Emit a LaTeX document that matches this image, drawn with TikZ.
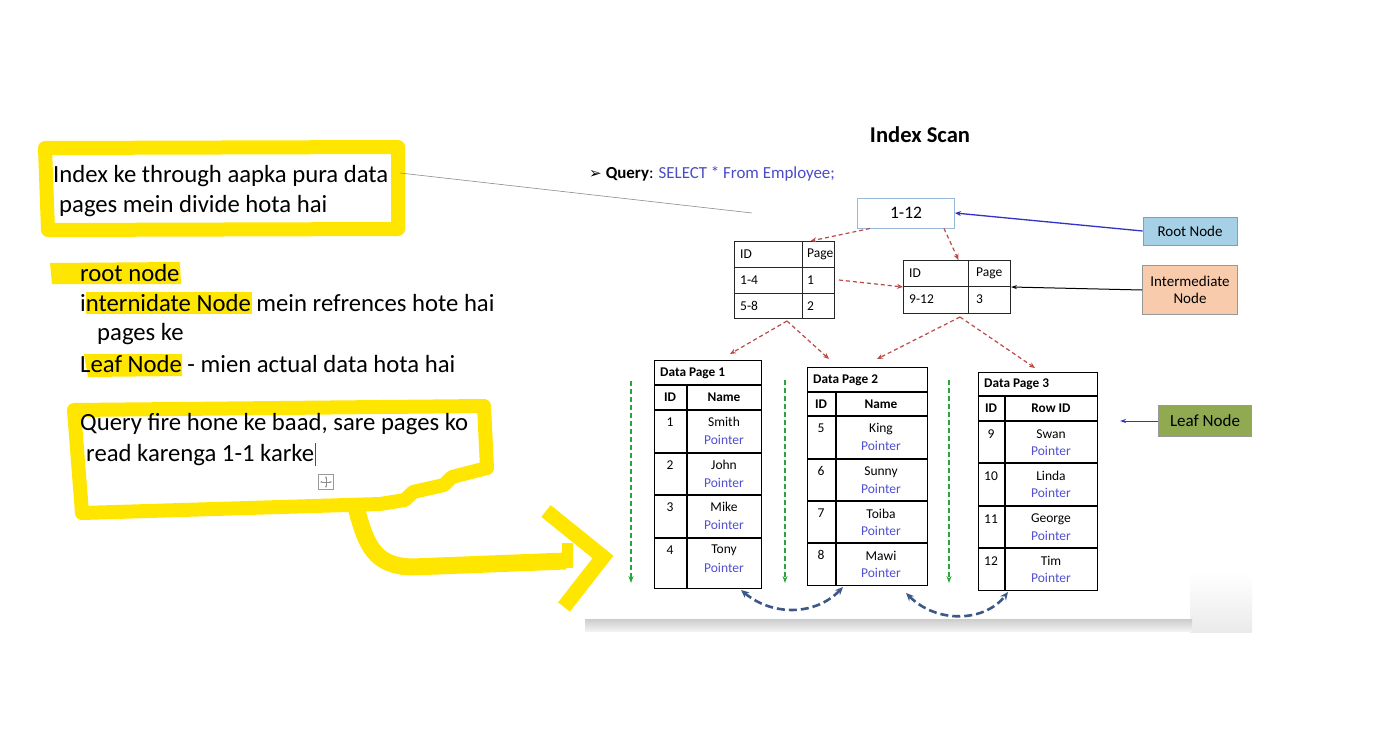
\documentclass[tikz,border=0pt]{standalone}
\usepackage{fontspec}
\setmainfont{Carlito}
\newfontfamily\symfont{DejaVu Sans}
\usetikzlibrary{arrows.meta}
\definecolor{hl}{RGB}{255,230,0}
\definecolor{redd}{RGB}{185,75,70}
\definecolor{grn}{RGB}{40,165,60}
\definecolor{bgrey}{RGB}{60,88,135}
\definecolor{ptrc}{RGB}{80,80,210}
\definecolor{qblue}{RGB}{75,75,200}
\definecolor{rootfill}{RGB}{166,208,230}
\definecolor{rootbd}{RGB}{150,185,220}
\definecolor{interfill}{RGB}{248,203,173}
\definecolor{leaffill}{RGB}{143,170,80}
\definecolor{lblue}{RGB}{50,50,200}
\tikzset{
  lefttxt/.style={font=\fontsize{24.7}{29}\selectfont, anchor=west, inner sep=0pt},
  tbl/.style={draw=black, line width=1.2pt, anchor=north west, inner sep=0pt},
  itbl/.style={draw=black!85, line width=1pt, anchor=north west, inner sep=0pt},
  cell/.style={font=\fontsize{13.5}{16}\selectfont, inner sep=0pt},
  bcell/.style={font=\bfseries\fontsize{13.3}{16}\selectfont, inner sep=0pt},
  ptr/.style={font=\fontsize{13.5}{16}\selectfont, text=ptrc, inner sep=0pt},
  redarr/.style={draw=redd, line width=1.2pt, dash pattern=on 4pt off 3pt, -{Stealth[length=6pt,width=5pt]}},
  grnarr/.style={draw=grn, line width=1.5pt, dash pattern=on 5pt off 3pt, -{Stealth[length=7pt,width=5pt]}},
  blucurve/.style={draw=bgrey, line width=2.6pt, dash pattern=on 8pt off 4pt, {Stealth[length=8pt,width=7pt]}-{Stealth[length=8pt,width=7pt]}},
  hlstroke/.style={draw=hl, line width=14pt, line join=round, line cap=round},
  label/.style={draw=black!40, line width=0.8pt, inner sep=0pt, font=\fontsize{15}{17.5}\selectfont, align=center},
}
\begin{document}
\begin{tikzpicture}[x=1pt,y=-1pt]
\useasboundingbox (0,0) rectangle (1380,741);
\fill[white] (0,0) rectangle (1380,741);

% ---------------- slide background bits ----------------
\shade[top color=white, bottom color=black!8] (1190,572) rectangle (1252,632);
\shade[top color=black!20, bottom color=black!5] (585,619) rectangle (1192,631);

% ---------------- yellow highlighter ----------------
\fill[hl] (50,263) -- (180,262) -- (181,284) -- (52,284) -- cycle;
\fill[hl] (86,292) -- (252,292) -- (252,314) -- (86,314) -- cycle;
\fill[hl] (84,354) -- (182,354) -- (182,376) -- (88,377) -- cycle;
\draw[hlstroke] (45,148) -- (398,147) -- (398,229) -- (48,230) -- cycle;
\draw[hlstroke] (74,410) -- (484,406) -- (487,468) -- (452,477) -- (444,485) -- (413,492) -- (405,500) -- (380,504) -- (82,513) -- cycle;
\draw[hl, line width=17pt, line cap=butt] (356,507) .. controls (366,545) and (374,566) .. (412,567) -- (566,561);
\fill[hl] (562,543) rectangle (573,568);
\draw[hl, line width=15pt, line join=miter, line cap=butt] (546,511) -- (603,557) -- (564,607);

% ---------------- left texts ----------------
\node[lefttxt] (t1) at (53,176) {Index ke through aapka pura data};
\node[lefttxt] (t2) at (59,206) {pages mein divide hota hai};
\node[lefttxt] (t3) at (80,273) {root node};
\node[lefttxt] (t4) at (80,303) {internidate Node mein refrences hote hai};
\node[lefttxt] (t5) at (97,334) {pages ke};
\node[lefttxt] (t6) at (80,364) {Leaf Node - mien actual data hota hai};
\node[lefttxt] (t7) at (80,424) {Query fire hone ke baad, sare pages ko};
\node[lefttxt] (t8) at (86,455) {read karenga 1-1 karke};
\coordinate (cur) at ([xshift=1.5pt]t8.east);
\draw[black!70, line width=0.7pt] ([yshift=12pt]cur) -- ([yshift=-11pt]cur);
% move icon
\node[draw=black!40, fill=white, minimum size=15pt, inner sep=0pt] (mv) at (326,482) {};
\draw[black!45, line width=0.6pt, {Stealth[length=2.5pt]}-{Stealth[length=2.5pt]}] ([xshift=-6pt]mv.center) -- ([xshift=6pt]mv.center);
\draw[black!45, line width=0.6pt, {Stealth[length=2.5pt]}-{Stealth[length=2.5pt]}] ([yshift=-6pt]mv.center) -- ([yshift=6pt]mv.center);

% connector line to diagram
\coordinate (lineend) at (752,213);
\draw[black!45, line width=0.6pt] (400,173) -- (lineend);

% ---------------- title and query ----------------
\node[font=\bfseries\fontsize{22.6}{27}\selectfont, inner sep=0pt] (title) at (920,135) {Index Scan};
\node[anchor=west, inner sep=0pt, font=\fontsize{16.9}{20}\selectfont] (query) at (589,174)
  {{\symfont\fontsize{15}{17}\selectfont ➢}\hspace{4pt}\textbf{Query}: \textcolor{qblue}{SELECT * From Employee;}};

% ---------------- root ----------------
\node[draw=rootbd, line width=1pt, minimum width=97pt, minimum height=30pt, inner sep=0pt,
      font=\fontsize{17.5}{20}\selectfont] (root) at (906,213) {1-12};

% ---------------- intermediate tables ----------------
\node[itbl, minimum width=100pt, minimum height=77pt] (it1) at (734,241) {};
\draw[black!85, line width=1pt] (734,267) -- (834,267) (734,293) -- (834,293) (802,241) -- (802,318);
\node[cell, anchor=west] (it1a) at (740,254) {ID};
\node[cell, anchor=west] (it1b) at (807,254) {Page};
\node[cell, anchor=west] (it1c) at (740,280) {1-4};
\node[cell, anchor=west] (it1d) at (807,280) {1};
\node[cell, anchor=west] (it1e) at (740,306) {5-8};
\node[cell, anchor=west] (it1f) at (807,306) {2};

\node[itbl, minimum width=107pt, minimum height=53pt] (it2) at (903,260) {};
\draw[black!85, line width=1pt] (903,286) -- (1010,286) (968,260) -- (968,313);
\node[cell, anchor=west] (it2a) at (909,273) {ID};
\node[cell, anchor=west] (it2b) at (976,273) {Page};
\node[cell, anchor=west] (it2c) at (909,299) {9-12};
\node[cell, anchor=west] (it2d) at (976,299) {3};

% ---------------- data pages ----------------
% DP1
\node[tbl, minimum width=107pt, minimum height=228pt] (dp1) at (654,360) {};
\draw[black, line width=1.2pt] (654,385) -- (761,385) (654,410) -- (761,410) (687,385) -- (687,588);
\node[bcell, anchor=west] (dp1t) at (660,373) {Data Page 1};
\node[bcell] (dp1h1) at (670,397) {ID};
\node[bcell] (dp1h2) at (724,397) {Name};
\foreach \t/\n/\nm [count=\i] in {410/1/Smith, 453/2/John, 495/3/Mike, 538/4/Tony} {
  \ifnum\i>1 \draw[black, line width=1.2pt] (654,\t) -- (761,\t); \fi
  \node[cell] (dp1id\i) at (670,\t+12) {\n};
  \node[cell] (dp1nm\i) at (724,\t+12) {\nm};
  \node[ptr] (dp1pt\i) at (724,\t+30) {Pointer};
}
% DP2
\node[tbl, minimum width=120pt, minimum height=218pt] (dp2) at (807,367) {};
\draw[black, line width=1.2pt] (807,392) -- (927,392) (807,416) -- (927,416) (836,392) -- (836,585);
\node[bcell, anchor=west] (dp2t) at (813,380) {Data Page 2};
\node[bcell] (dp2h1) at (821,404) {ID};
\node[bcell] (dp2h2) at (881,404) {Name};
\foreach \t/\n/\nm [count=\i] in {416/5/King, 459/6/Sunny, 501/7/Toiba, 543/8/Mawi} {
  \ifnum\i>1 \draw[black, line width=1.2pt] (807,\t) -- (927,\t); \fi
  \node[cell] (dp2id\i) at (821,\t+12) {\n};
  \node[cell] (dp2nm\i) at (881,\t+13) {\nm};
  \node[ptr] (dp2pt\i) at (881,\t+30) {Pointer};
}
% DP3
\node[tbl, minimum width=119pt, minimum height=218pt] (dp3) at (978,372) {};
\draw[black, line width=1.2pt] (978,396) -- (1097,396) (978,421) -- (1097,421) (1005,396) -- (1005,590);
\node[bcell, anchor=west] (dp3t) at (984,384) {Data Page 3};
\node[bcell] (dp3h1) at (991,408) {ID};
\node[bcell] (dp3h2) at (1051,408) {Row ID};
\foreach \t/\n/\nm [count=\i] in {421/9/Swan, 463/10/Linda, 506/11/George, 548/12/Tim} {
  \ifnum\i>1 \draw[black, line width=1.2pt] (978,\t) -- (1097,\t); \fi
  \node[cell] (dp3id\i) at (991,\t+13) {\n};
  \node[cell] (dp3nm\i) at (1051,\t+13) {\nm};
  \node[ptr] (dp3pt\i) at (1051,\t+30) {Pointer};
}

% ---------------- labels ----------------
\node[label, fill=rootfill, minimum width=94pt, minimum height=28pt] (lroot) at (1190,231) {Root Node};
\node[label, fill=interfill, minimum width=95pt, minimum height=49pt] (linter) at (1190,290) {Intermediate\\[-1pt]Node};
\node[label, fill=leaffill, minimum width=93pt, minimum height=31pt, font=\fontsize{17}{20}\selectfont] (lleaf) at (1205,421) {Leaf Node};
\coordinate (leafend) at (1120,421);

\draw[draw=lblue, line width=1.3pt, -{Stealth[length=6pt,width=5pt]}] (lroot.west) -- (root.east);
\draw[draw=black, line width=1pt, -{Stealth[length=6pt,width=4pt]}] (linter.west) -- (it2.east);
\draw[draw=lblue, line width=1pt, -{Stealth[length=6pt,width=4pt]}] (lleaf.west) -- (leafend);

% ---------------- red dashed arrows ----------------
\draw[redarr] ([xshift=-36pt]root.south) -- ([xshift=26pt]it1.north);
\draw[redarr] ([xshift=38pt]root.south) -- ([xshift=1.5pt]it2.north);
\draw[redarr] ([xshift=4pt]it1.east) -- (it2.west);
\coordinate (it1bot) at (787,321);
\coordinate (it2bot) at (960,317);
\draw[redarr] (it1bot) -- (730,354);
\draw[redarr] (it1bot) -- (829,359);
\draw[redarr] (it2bot) -- (877,359);
\draw[redarr] (it2bot) -- (1035,368);

% ---------------- green dashed arrows ----------------
\coordinate (g1a) at (631,381); \coordinate (g1b) at (631,583);
\coordinate (g2a) at (785,380); \coordinate (g2b) at (785,583);
\coordinate (g3a) at (949,380); \coordinate (g3b) at (949,583);
\draw[grnarr] (g1a) -- (g1b);
\draw[grnarr] (g2a) -- (g2b);
\draw[grnarr] (g3a) -- (g3b);

% ---------------- blue curved arrows ----------------
\coordinate (c1a) at (741,590); \coordinate (c1b) at (843,587);
\coordinate (c2a) at (906,593); \coordinate (c2b) at (1008,592);
\draw[blucurve] (c1a) .. controls (772,616) and (815,616) .. (c1b);
\draw[blucurve] (c2a) .. controls (937,624) and (985,622) .. (c2b);
\end{tikzpicture}
\end{document}
